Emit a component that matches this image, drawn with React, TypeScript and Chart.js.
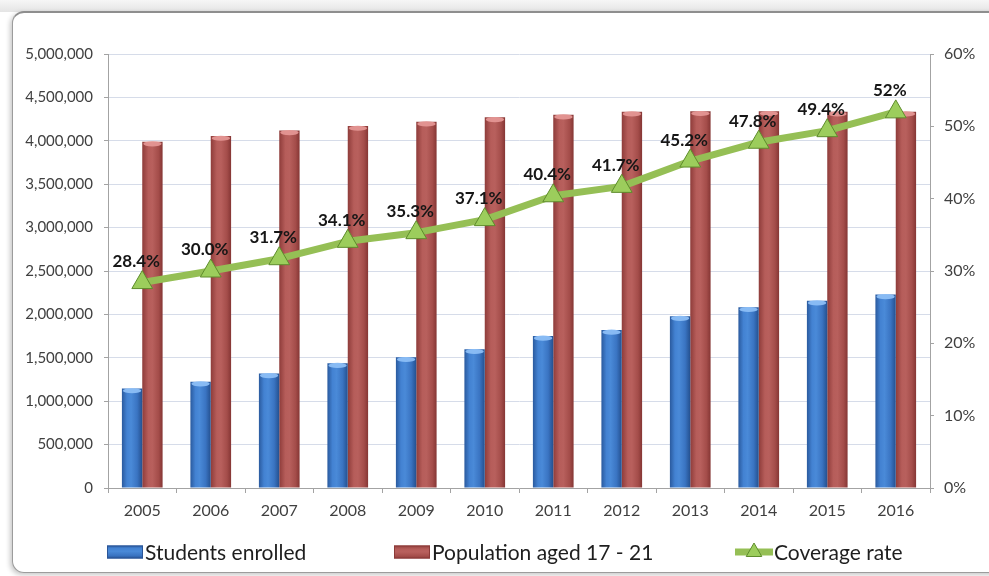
import React, { useEffect, useRef } from "react";
import { Chart, registerables } from "chart.js";

Chart.register(...registerables);

// ---- data -------------------------------------------------------------
const years = ["2005", "2006", "2007", "2008", "2009", "2010", "2011", "2012", "2013", "2014", "2015", "2016"];

const studentsEnrolled = [
  1146000, 1225000, 1320000, 1437000, 1506000, 1598000,
  1751000, 1820000, 1980000, 2082000, 2158000, 2230000,
];

const populationAged17to21 = [
  3990000, 4055000, 4120000, 4170000, 4220000, 4270000,
  4300000, 4335000, 4340000, 4340000, 4335000, 4335000,
];

// coverage rate in percent, kept as printed so the labels read exactly like this
const coverageText = ["28.4", "30.0", "31.7", "34.1", "35.3", "37.1", "40.4", "41.7", "45.2", "47.8", "49.4", "52"];
const coverageRate = coverageText.map(Number);

const seriesNames = ["Students enrolled", "Population aged 17 - 21", "Coverage rate"];

// ---- styling ------------------------------------------------------------
const FONT = "Lato, 'Open Sans', 'DejaVu Sans', sans-serif";
const AXIS_GREY = "#A3A3A3";
const GRID = "#D6DCE9";
const TEXT = "#404040";
const CATEGORY_PCT = 0.594;
const LINE_GREEN = "#95BF55";
const TRI_FILL = "#9CCD5C";
const TRI_EDGE = "#5E8C2C";

const BLUE_STOPS: [number, string][] = [
  [0, "#2A5A9E"], [0.25, "#4382D2"], [0.45, "#4A8AD8"], [0.75, "#3A74C2"], [1, "#24508F"],
];
const RED_STOPS: [number, string][] = [
  [0, "#8E3C3A"], [0.3, "#B65D5A"], [0.5, "#B8605D"], [0.8, "#A44D4A"], [1, "#853634"],
];

function barFill(stops: [number, string][], solid: string, side: number) {
  return (c: any) => {
    const chart = c.chart;
    const xs = chart.scales?.x;
    if (c.dataIndex === undefined || !xs || !chart.chartArea) return solid;
    const center = xs.getPixelForValue(c.dataIndex);
    const group = (xs.width / years.length) * CATEGORY_PCT;
    const left = center - group / 2 + (side * group) / 2;
    const g = chart.ctx.createLinearGradient(left, 0, left + group / 2, 0);
    stops.forEach(([o, col]) => g.addColorStop(o, col));
    return g;
  };
}

// light bevel on the top of each bar
const barCaps = {
  id: "barCaps",
  afterDatasetDraw(chart: any, args: any) {
    const meta = args.meta;
    if (meta.type !== "bar") return;
    const ctx = chart.ctx;
    const cap = meta.index === 0 ? "rgba(140,190,245,0.95)" : "rgba(228,150,148,0.95)";
    ctx.save();
    meta.data.forEach((el: any) => {
      const { x, y, width } = el.getProps(["x", "y", "width"], true);
      ctx.beginPath();
      ctx.ellipse(x, y + 2.2, width / 2 - 1, 2.6, 0, 0, Math.PI * 2);
      ctx.fillStyle = cap;
      ctx.fill();
    });
    ctx.restore();
  },
};

// percentage labels above the coverage points
const coverageLabels = {
  id: "coverageLabels",
  afterDatasetsDraw(chart: any) {
    const meta = chart.getDatasetMeta(2);
    const ctx = chart.ctx;
    ctx.save();
    ctx.font = `bold 17px ${FONT}`;
    ctx.fillStyle = "#161616";
    ctx.textAlign = "center";
    ctx.textBaseline = "middle";
    meta.data.forEach((pt: any, i: number) => {
      ctx.fillText(coverageText[i] + "%", pt.x - 6, pt.y - 21);
    });
    ctx.restore();
  },
};

// legend row under the axis
const bottomLegend = {
  id: "bottomLegend",
  afterDraw(chart: any) {
    const ctx = chart.ctx;
    const y = 552;
    const starts = [107, 394, 735];
    const boxW = 36;
    ctx.save();
    ctx.font = `21px ${FONT}`;
    ctx.textBaseline = "middle";
    ctx.textAlign = "left";
    starts.forEach((sx, i) => {
      if (i < 2) {
        const stops = i === 0 ? BLUE_STOPS : RED_STOPS;
        const g = ctx.createLinearGradient(0, y - 7, 0, y + 7);
        stops.forEach(([o, col]) => g.addColorStop(o, col));
        ctx.fillStyle = g;
        ctx.fillRect(sx, y - 6.5, boxW, 13);
        ctx.strokeStyle = i === 0 ? "#2A5597" : "#8C3A38";
        ctx.lineWidth = 1;
        ctx.strokeRect(sx + 0.5, y - 6, boxW - 1, 12);
      } else {
        ctx.strokeStyle = LINE_GREEN;
        ctx.lineWidth = 7;
        ctx.beginPath();
        ctx.moveTo(sx, y);
        ctx.lineTo(sx + 38, y);
        ctx.stroke();
        const r = 9;
        const cx = sx + 19;
        ctx.beginPath();
        ctx.moveTo(cx, y - r);
        ctx.lineTo(cx + r * 0.866, y + r / 2);
        ctx.lineTo(cx - r * 0.866, y + r / 2);
        ctx.closePath();
        ctx.fillStyle = TRI_FILL;
        ctx.fill();
        ctx.strokeStyle = TRI_EDGE;
        ctx.lineWidth = 1;
        ctx.stroke();
      }
      ctx.fillStyle = "#1E1E1E";
      ctx.fillText(seriesNames[i], sx + (i < 2 ? boxW + 2 : 39), y + 1);
    });
    ctx.restore();
  },
};

function EnrollmentChart() {
  const ref = useRef<HTMLCanvasElement | null>(null);

  useEffect(() => {
    if (!ref.current) return;
    const chart = new Chart(ref.current, {
      type: "bar",
      data: {
        labels: years,
        datasets: [
          {
            type: "bar",
            label: seriesNames[0],
            data: studentsEnrolled,
            yAxisID: "y",
            backgroundColor: barFill(BLUE_STOPS, "#3A72BE", 0) as any,
            borderWidth: 0,
            barPercentage: 1,
            categoryPercentage: CATEGORY_PCT,
            order: 1,
          },
          {
            type: "bar",
            label: seriesNames[1],
            data: populationAged17to21,
            yAxisID: "y",
            backgroundColor: barFill(RED_STOPS, "#A84B48", 1) as any,
            borderWidth: 0,
            barPercentage: 1,
            categoryPercentage: CATEGORY_PCT,
            order: 1,
          },
          {
            type: "line",
            label: seriesNames[2],
            data: coverageRate,
            yAxisID: "y1",
            borderColor: LINE_GREEN,
            borderWidth: 7,
            borderJoinStyle: "round",
            borderCapStyle: "round",
            tension: 0,
            pointStyle: "triangle",
            pointRadius: 12,
            pointHoverRadius: 12,
            pointBackgroundColor: TRI_FILL,
            pointBorderColor: TRI_EDGE,
            pointBorderWidth: 1,
            order: 0,
          },
        ],
      },
      options: {
        responsive: true,
        maintainAspectRatio: false,
        animation: false,
        layout: { padding: { top: 54, left: 0, right: 0, bottom: 0 } },
        plugins: {
          legend: { display: false },
          tooltip: { enabled: false },
          title: { display: false },
        },
        scales: {
          x: {
            grid: {
              display: true,
              drawOnChartArea: false,
              drawTicks: true,
              tickLength: 5,
              tickColor: AXIS_GREY,
              offset: true,
            },
            border: { color: AXIS_GREY, width: 1 },
            ticks: { color: TEXT, font: { family: FONT, size: 16 }, padding: 8 },
            afterFit: (s: any) => { s.height = 88; },
          },
          y: {
            position: "left",
            min: 0,
            max: 5000000,
            grid: { color: GRID, tickColor: AXIS_GREY, tickLength: 4 },
            border: { color: AXIS_GREY, width: 1 },
            ticks: {
              stepSize: 500000,
              color: TEXT,
              padding: 11,
              font: { family: FONT, size: 15 },
              callback: (v: any) => Number(v).toLocaleString("en-US"),
            },
            afterFit: (s: any) => { s.width = 108; },
          },
          y1: {
            position: "right",
            min: 0,
            max: 60,
            grid: { drawOnChartArea: false, tickColor: AXIS_GREY, tickLength: 4 },
            border: { color: AXIS_GREY, width: 1 },
            ticks: {
              stepSize: 10,
              color: TEXT,
              padding: 10,
              font: { family: FONT, size: 16 },
              callback: (v: any) => `${v}%`,
            },
            afterFit: (s: any) => { s.width = 59; },
          },
        },
      },
      plugins: [barCaps, coverageLabels, bottomLegend],
    });
    return () => chart.destroy();
  }, []);

  return (
    <div style={{ position: "absolute", left: 0, top: 0, width: 989, height: 576 }}>
      <canvas ref={ref} />
    </div>
  );
}

export default function App() {
  return (
    <div
      style={{
        position: "fixed",
        left: 0,
        top: 0,
        width: 989,
        height: 576,
        overflow: "hidden",
        background: "#ffffff",
      }}
    >
      <div
        style={{
          position: "absolute",
          left: 0,
          top: 0,
          width: 989,
          height: 12,
          background: "linear-gradient(#f6f6f6, #e4e4e4)",
        }}
      />
      <div
        style={{
          position: "absolute",
          left: 12,
          top: 11,
          width: 1010,
          height: 562,
          boxSizing: "border-box",
          border: "1px solid #9c9c9c",
          borderTop: "2px solid #8e8e8e",
          borderRadius: 12,
          background: "#ffffff",
          boxShadow: "-2px 2px 5px rgba(0,0,0,0.22)",
        }}
      />
      <EnrollmentChart />
    </div>
  );
}
